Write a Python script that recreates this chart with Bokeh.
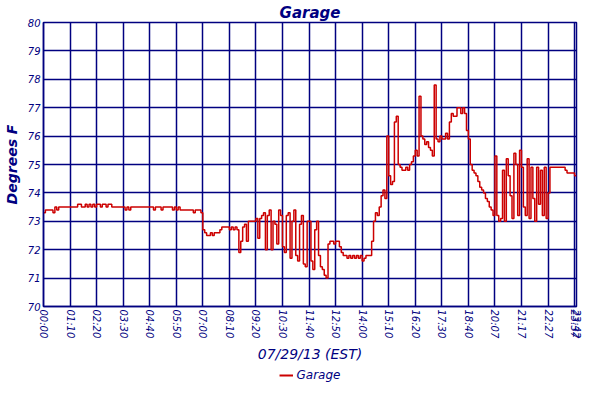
from bokeh.plotting import figure
from bokeh.layouts import column
from bokeh.models import FixedTicker, Legend, LegendItem
from bokeh.embed import file_html
from bokeh.resources import INLINE

# Tick labels (one every 14 samples, plus the final sample)
TICK_LABELS = ["00:00", "01:10", "02:20", "03:30", "04:40", "05:50", "07:00",
               "08:10", "09:20", "10:30", "11:40", "12:50", "14:00", "15:10",
               "16:20", "17:30", "18:40", "20:07", "21:17", "22:27", "23:37", "23:42"]

# Garage temperature (deg F), one sample per ~5 minutes, in 14-sample blocks
block_00 = [73.3, 73.4, 73.4, 73.4, 73.4, 73.3, 73.5, 73.4, 73.5, 73.5, 73.5, 73.5, 73.5, 73.5]
block_01 = [73.5, 73.5, 73.5, 73.5, 73.6, 73.6, 73.5, 73.5, 73.6, 73.5, 73.6, 73.5, 73.6, 73.5]
block_02 = [73.6, 73.6, 73.5, 73.6, 73.6, 73.5, 73.6, 73.6, 73.5, 73.5, 73.5, 73.5, 73.5, 73.5]
block_03 = [73.5, 73.4, 73.5, 73.4, 73.5, 73.5, 73.5, 73.5, 73.5, 73.5, 73.5, 73.5, 73.5, 73.5]
block_04 = [73.5, 73.5, 73.4, 73.5, 73.5, 73.5, 73.4, 73.5, 73.5, 73.5, 73.5, 73.5, 73.4, 73.5]
block_05 = [73.4, 73.5, 73.4, 73.4, 73.4, 73.4, 73.4, 73.4, 73.4, 73.3, 73.4, 73.4, 73.4, 73.3]
block_06 = [72.7, 72.6, 72.5, 72.5, 72.6, 72.5, 72.6, 72.6, 72.6, 72.7, 72.8, 72.8, 72.8, 72.8]
block_07 = [72.7, 72.8, 72.7, 72.8, 72.7, 71.9, 72.3, 72.8, 72.9, 72.3, 73.0, 73.0, 73.0, 73.0]
block_08 = [73.1, 72.4, 73.1, 73.2, 73.3, 72.0, 73.2, 73.4, 72.0, 73.0, 72.9, 72.2, 73.4, 73.2]
block_09 = [72.1, 71.9, 73.2, 73.3, 71.7, 73.0, 73.4, 71.8, 71.6, 72.9, 73.2, 71.5, 71.4, 73.0]
block_10 = [73.0, 71.6, 71.3, 72.7, 73.0, 71.8, 71.4, 71.3, 71.1, 71.0, 72.2, 72.3, 72.3, 72.2]
block_11 = [72.3, 72.3, 72.1, 71.9, 71.8, 71.8, 71.7, 71.8, 71.7, 71.8, 71.7, 71.8, 71.7, 71.8]
block_12 = [71.6, 71.7, 71.8, 71.8, 71.8, 72.3, 73.0, 73.3, 73.2, 73.5, 73.9, 74.1, 73.8, 76.0]
block_13 = [74.6, 74.3, 74.4, 76.5, 76.7, 75.0, 74.9, 74.8, 74.8, 74.9, 74.8, 75.0, 75.1, 75.3]
block_14 = [75.5, 75.3, 77.4, 76.0, 75.9, 75.7, 75.8, 75.6, 75.5, 75.3, 77.8, 75.9, 75.8, 76.0]
block_15 = [75.9, 75.9, 76.1, 75.9, 76.5, 76.8, 76.7, 76.7, 77.0, 77.0, 76.8, 77.0, 76.8, 76.2]
block_16 = [75.9, 75.0, 74.8, 74.7, 74.6, 74.4, 74.2, 74.1, 74.0, 73.8, 73.7, 73.5, 73.4, 73.2]
block_17 = [75.3, 73.2, 73.0, 73.1, 74.8, 73.0, 75.2, 74.6, 73.9, 73.1, 75.4, 75.0, 73.2, 75.5]
block_18 = [74.9, 73.5, 73.2, 75.2, 73.1, 74.9, 73.8, 73.0, 74.9, 73.6, 74.8, 73.2, 74.9, 73.1]
block_19 = [74.0, 74.9, 74.9, 74.9, 74.9, 74.9, 74.9, 74.9, 74.9, 74.8, 74.7, 74.7, 74.7, 74.7]
block_20 = [74.6, 74.6]

temps = (block_00 + block_01 + block_02 + block_03 + block_04 + block_05 + block_06 +
         block_07 + block_08 + block_09 + block_10 + block_11 + block_12 + block_13 +
         block_14 + block_15 + block_16 + block_17 + block_18 + block_19 + block_20)
samples = list(range(len(temps)))
last = samples[-1]
tick_positions = list(range(0, last, 14)) + [last]

NAVY = "#000080"
RED = "#CC0000"
FONT = "DejaVu Sans"

p = figure(width=584, height=365, x_range=(0, last), y_range=(70, 80),
           output_backend="svg", toolbar_location=None,
           min_border_left=4, min_border_right=8, min_border_top=0, min_border_bottom=0)

r = p.step(samples, temps, mode="after", line_color=RED, line_width=1.5)

p.title.text = "Garage"
p.title.align = "center"
p.title.text_font = FONT
p.title.text_font_style = "bold italic"
p.title.text_font_size = "15px"
p.title.text_color = NAVY
p.title.standoff = 2

p.xaxis.ticker = FixedTicker(ticks=tick_positions)
p.xaxis.major_label_overrides = {t: lab for t, lab in zip(tick_positions, TICK_LABELS)}
p.xaxis.major_label_orientation = "vertical"
p.yaxis.ticker = FixedTicker(ticks=list(range(70, 81)))

for ax in (p.xaxis, p.yaxis):
    ax.major_label_text_font = FONT
    ax.major_label_text_font_style = "italic"
    ax.major_label_text_font_size = "10px"
    ax.major_label_text_color = NAVY
    ax.axis_line_color = NAVY
    ax.axis_line_width = 1.5
    ax.major_tick_in = 0
    ax.major_tick_out = 0
    ax.minor_tick_line_color = None
    ax.major_label_standoff = 3
    ax.axis_label_text_font = FONT
    ax.axis_label_text_color = NAVY
    ax.axis_label_text_font_size = "14px"
    ax.axis_label_standoff = 5

p.xaxis.axis_label = "07/29/13 (EST)"
p.xaxis.axis_label_text_font_style = "italic"
p.yaxis.axis_label = "Degrees F"
p.yaxis.axis_label_text_font_style = "bold italic"

p.xgrid.grid_line_color = NAVY
p.ygrid.grid_line_color = NAVY
p.xgrid.grid_line_width = 1.5
p.ygrid.grid_line_width = 1.5
p.outline_line_color = NAVY
p.outline_line_width = 1.5

# Legend strip below the chart: same series, drawn out of view, so only its
# legend entry shows
lf = figure(width=584, height=19, x_range=(0, 1), y_range=(0, 1),
            output_backend="svg", toolbar_location=None, min_border=0)
lf.axis.visible = False
lf.grid.visible = False
lf.outline_line_color = None
lr = lf.step(samples, temps, mode="after", line_color=RED, line_width=2)
legend = Legend(items=[LegendItem(label="Garage", renderers=[lr])],
                orientation="horizontal", location="center",
                border_line_color=None, background_fill_alpha=0,
                label_text_font=FONT, label_text_font_style="italic",
                label_text_color=NAVY, label_text_font_size="12px",
                label_height=14, label_standoff=4,
                glyph_width=14, glyph_height=10, margin=0, padding=2, spacing=0)
lf.add_layout(legend)

layout = column(p, lf, spacing=0)
open("out.html", "w").write(file_html(layout, INLINE))
